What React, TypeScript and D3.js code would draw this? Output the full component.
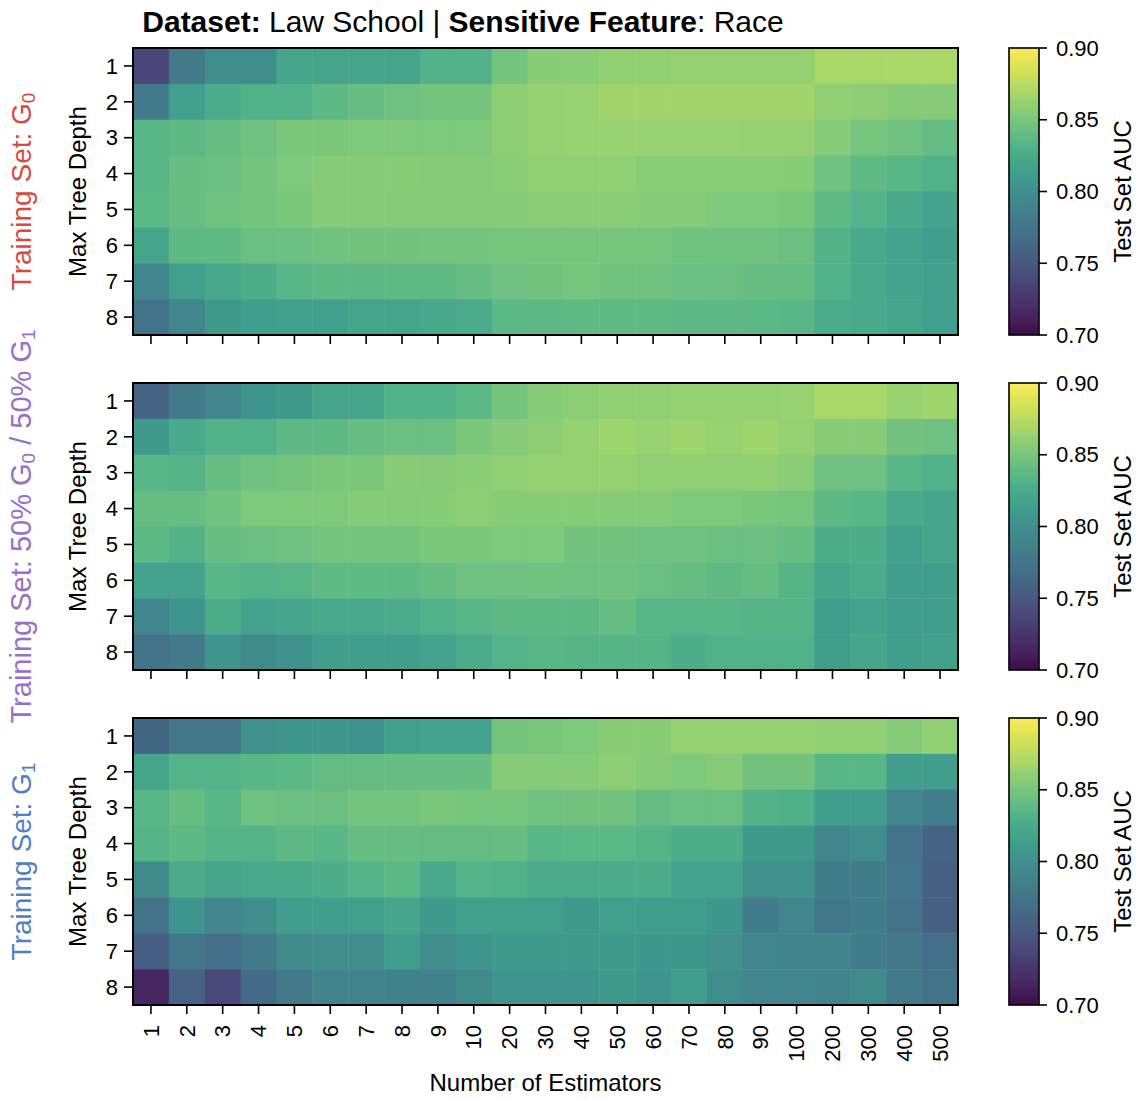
import React from "react";
import * as d3 from "d3";

const estimators = ["1","2","3","4","5","6","7","8","9","10","20","30","40","50","60","70","80","90","100","200","300","400","500"];
const depths = ["1","2","3","4","5","6","7","8"];
const colorTicks = [0.7, 0.75, 0.8, 0.85, 0.9];

const aucTrainG0 = [
  [0.737,0.78,0.798,0.798,0.82,0.82,0.82,0.82,0.83,0.83,0.848,0.856,0.857,0.86,0.86,0.862,0.862,0.862,0.862,0.869,0.869,0.869,0.869],
  [0.78,0.815,0.825,0.83,0.83,0.838,0.842,0.845,0.848,0.848,0.858,0.862,0.863,0.866,0.866,0.866,0.866,0.866,0.866,0.86,0.858,0.855,0.855],
  [0.835,0.838,0.842,0.845,0.851,0.851,0.853,0.853,0.853,0.853,0.858,0.862,0.863,0.863,0.863,0.863,0.863,0.862,0.862,0.855,0.849,0.846,0.84],
  [0.835,0.842,0.843,0.848,0.852,0.855,0.855,0.856,0.855,0.855,0.857,0.86,0.86,0.86,0.857,0.857,0.857,0.857,0.856,0.845,0.839,0.835,0.83],
  [0.836,0.842,0.846,0.848,0.851,0.855,0.855,0.855,0.855,0.855,0.855,0.857,0.857,0.857,0.855,0.855,0.852,0.852,0.85,0.839,0.832,0.823,0.818],
  [0.82,0.837,0.839,0.843,0.844,0.846,0.847,0.847,0.848,0.848,0.849,0.849,0.849,0.849,0.849,0.846,0.846,0.846,0.843,0.831,0.823,0.818,0.813],
  [0.792,0.815,0.822,0.828,0.835,0.837,0.838,0.839,0.839,0.842,0.845,0.847,0.849,0.846,0.846,0.844,0.843,0.842,0.842,0.83,0.823,0.818,0.815],
  [0.773,0.792,0.81,0.812,0.815,0.815,0.82,0.82,0.822,0.825,0.836,0.837,0.839,0.839,0.839,0.837,0.837,0.836,0.835,0.825,0.823,0.82,0.814],
];

const aucTrainMixed = [
  [0.76,0.78,0.792,0.804,0.81,0.82,0.82,0.83,0.83,0.836,0.848,0.855,0.858,0.86,0.86,0.862,0.862,0.862,0.863,0.869,0.869,0.863,0.865],
  [0.81,0.823,0.83,0.83,0.837,0.838,0.842,0.843,0.843,0.851,0.855,0.858,0.862,0.865,0.863,0.865,0.863,0.865,0.862,0.856,0.856,0.847,0.845],
  [0.835,0.832,0.842,0.846,0.848,0.851,0.851,0.856,0.855,0.857,0.86,0.862,0.862,0.862,0.86,0.86,0.86,0.86,0.857,0.845,0.845,0.835,0.83],
  [0.842,0.842,0.846,0.852,0.853,0.853,0.855,0.855,0.856,0.858,0.856,0.856,0.856,0.855,0.855,0.852,0.852,0.85,0.849,0.837,0.835,0.823,0.821],
  [0.837,0.831,0.842,0.843,0.845,0.848,0.848,0.848,0.851,0.851,0.852,0.852,0.847,0.847,0.845,0.845,0.843,0.843,0.842,0.828,0.828,0.815,0.82],
  [0.818,0.818,0.835,0.832,0.835,0.839,0.839,0.839,0.842,0.845,0.845,0.846,0.845,0.845,0.843,0.842,0.839,0.842,0.833,0.821,0.825,0.812,0.812],
  [0.792,0.804,0.828,0.818,0.821,0.823,0.823,0.825,0.83,0.835,0.838,0.838,0.837,0.842,0.835,0.835,0.835,0.833,0.833,0.813,0.818,0.812,0.812],
  [0.773,0.78,0.804,0.796,0.802,0.812,0.812,0.813,0.818,0.825,0.832,0.835,0.833,0.833,0.833,0.828,0.83,0.83,0.83,0.813,0.821,0.812,0.815],
];

const aucTrainG1 = [
  [0.762,0.777,0.777,0.8,0.804,0.806,0.802,0.815,0.818,0.818,0.848,0.85,0.852,0.856,0.856,0.862,0.862,0.862,0.862,0.86,0.86,0.855,0.86],
  [0.82,0.832,0.832,0.835,0.836,0.84,0.84,0.842,0.842,0.842,0.855,0.855,0.855,0.858,0.855,0.852,0.855,0.847,0.847,0.835,0.835,0.812,0.812],
  [0.835,0.842,0.835,0.845,0.843,0.843,0.848,0.848,0.85,0.849,0.849,0.846,0.847,0.847,0.84,0.843,0.843,0.831,0.829,0.812,0.812,0.792,0.784],
  [0.833,0.837,0.833,0.832,0.838,0.835,0.842,0.842,0.84,0.84,0.842,0.835,0.836,0.836,0.833,0.828,0.828,0.81,0.81,0.792,0.798,0.773,0.76],
  [0.795,0.825,0.82,0.823,0.823,0.828,0.832,0.836,0.823,0.832,0.83,0.825,0.825,0.825,0.827,0.818,0.818,0.8,0.8,0.782,0.782,0.776,0.757],
  [0.773,0.804,0.792,0.798,0.812,0.812,0.815,0.821,0.81,0.815,0.815,0.815,0.81,0.815,0.812,0.812,0.806,0.782,0.792,0.777,0.782,0.773,0.757],
  [0.755,0.777,0.769,0.78,0.795,0.798,0.799,0.812,0.799,0.804,0.81,0.81,0.81,0.81,0.806,0.806,0.8,0.792,0.79,0.79,0.782,0.777,0.769],
  [0.715,0.758,0.739,0.765,0.78,0.79,0.79,0.787,0.786,0.796,0.804,0.804,0.804,0.81,0.804,0.812,0.798,0.792,0.792,0.79,0.796,0.78,0.773],
];

const panels = [
  { data: aucTrainG0, color: "#d64b40", parts: ["Training Set: G", "0"] },
  { data: aucTrainMixed, color: "#9a70c6", parts: ["Training Set: 50% G", "0", " / 50% G", "1"] },
  { data: aucTrainG1, color: "#4f80c4", parts: ["Training Set: G", "1"] },
];

const FONT = "'Liberation Sans', Arial, Helvetica, sans-serif";
const W = 1141, H = 1099;
const left = 133, right = 958;
const panelTops = [48, 383, 718];
const panelH = 287;
const cbX = 1009, cbW = 30;
const TICK_FS = 22;
const LABEL_FS = 24;

function colorOf(v: number): string {
  const t = Math.max(0, Math.min(1, (v - 0.7) / 0.2));
  const c = d3.rgb(d3.interpolateViridis(t));
  const lum = 0.2126 * c.r + 0.7152 * c.g + 0.0722 * c.b;
  const k = 0.28;
  const lift = 6;
  return d3
    .rgb(
      c.r * (1 - k) + lum * k + lift,
      c.g * (1 - k) + lum * k + lift,
      c.b * (1 - k) + lum * k + lift
    )
    .formatHex();
}

function Panel({ idx }: { idx: number }) {
  const p = panels[idx];
  const top = panelTops[idx];
  const x = d3.scaleBand().domain(estimators).range([left, right]);
  const y = d3.scaleBand().domain(depths).range([top, top + panelH]);
  const cb = d3.scaleLinear().domain([0.7, 0.9]).range([top + panelH, top]);
  const gradId = `cbgrad${idx}`;
  const stops = d3.range(0, 1.0001, 0.02);
  const last = idx === 2;
  const midY = top + panelH / 2;
  return (
    <g>
      <defs>
        <linearGradient id={gradId} x1="0" y1="1" x2="0" y2="0">
          {stops.map((s) => (
            <stop key={s} offset={s} stopColor={colorOf(0.7 + s * 0.2)} />
          ))}
        </linearGradient>
      </defs>
      {p.data.map((row, ri) =>
        row.map((v, ci) => (
          <rect
            key={`${ri}-${ci}`}
            x={x(estimators[ci])}
            y={y(depths[ri])}
            width={x.bandwidth() + 0.5}
            height={y.bandwidth() + 0.5}
            fill={colorOf(v)}
          />
        ))
      )}
      <rect x={left} y={top} width={right - left} height={panelH} fill="none" stroke="#000" strokeWidth={2} />
      {depths.map((d) => {
        const yy = (y(d) as number) + y.bandwidth() / 2;
        return (
          <g key={d}>
            <line x1={left - 9} x2={left} y1={yy} y2={yy} stroke="#000" strokeWidth={1.6} />
            <text x={left - 15} y={yy} dy="0.35em" textAnchor="end" fontSize={TICK_FS} fontFamily={FONT}>{d}</text>
          </g>
        );
      })}
      {estimators.map((e) => {
        const xx = (x(e) as number) + x.bandwidth() / 2;
        return (
          <g key={e}>
            <line x1={xx} x2={xx} y1={top + panelH} y2={top + panelH + 9} stroke="#000" strokeWidth={1.6} />
            {last && (
              <text
                transform={`translate(${xx},${top + panelH + 20}) rotate(-90)`}
                dy="0.35em"
                textAnchor="end"
                fontSize={TICK_FS}
                fontFamily={FONT}
              >
                {e}
              </text>
            )}
          </g>
        );
      })}
      <text transform={`translate(86,${midY}) rotate(-90)`} textAnchor="middle" fontSize={LABEL_FS} fontFamily={FONT}>
        Max Tree Depth
      </text>
      <text transform={`translate(31,${midY}) rotate(-90)`} textAnchor="middle" fontSize={idx === 1 ? 29 : 28} fontFamily={FONT} fill={p.color}>
        {p.parts.map((s, i) =>
          i % 2 === 0 ? (
            <tspan key={i} dy={i === 0 ? 0 : -4}>{s}</tspan>
          ) : (
            <tspan key={i} fontSize={19} dy={4}>{s}</tspan>
          )
        )}
      </text>
      <rect x={cbX} y={top} width={cbW} height={panelH} fill={`url(#${gradId})`} stroke="#000" strokeWidth={1.6} />
      {colorTicks.map((t) => (
        <g key={t}>
          <line x1={cbX + cbW} x2={cbX + cbW + 8} y1={cb(t)} y2={cb(t)} stroke="#000" strokeWidth={1.6} />
          <text x={cbX + cbW + 17} y={cb(t)} dy="0.35em" fontSize={TICK_FS} fontFamily={FONT}>{t.toFixed(2)}</text>
        </g>
      ))}
      <text transform={`translate(1131,${midY}) rotate(-90)`} textAnchor="middle" fontSize={LABEL_FS} fontFamily={FONT}>
        Test Set AUC
      </text>
    </g>
  );
}

export default function App() {
  return (
    <svg width={W} height={H} style={{ position: "absolute", left: 0, top: 0, background: "#fff" }}>
      <rect width={W} height={H} fill="#fff" />
      <text x={463} y={32} textAnchor="middle" fontSize={30} fontFamily={FONT}>
        <tspan fontWeight="bold">Dataset:</tspan>
        <tspan> Law School | </tspan>
        <tspan fontWeight="bold">Sensitive Feature</tspan>
        <tspan>: Race</tspan>
      </text>
      {panels.map((_, i) => (
        <Panel key={i} idx={i} />
      ))}
      <text x={(left + right) / 2} y={1091} textAnchor="middle" fontSize={LABEL_FS} fontFamily={FONT}>
        Number of Estimators
      </text>
    </svg>
  );
}
